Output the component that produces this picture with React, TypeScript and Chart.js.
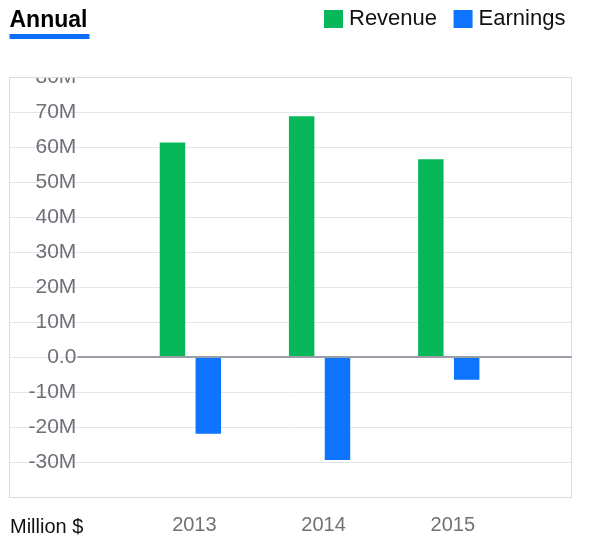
import React, { useEffect, useRef } from 'react';
import { Chart, registerables } from 'chart.js';

Chart.register(...registerables);

const years = [2013, 2014, 2015];
const revenue = [61.3e6, 68.8e6, 56.5e6];
const earnings = [-21.8e6, -29.3e6, -6.4e6];
const seriesNames = ['Revenue', 'Earnings'];
const seriesColors = ['#07b85b', '#0e73ff'];
const yMin = -40e6;
const yMax = 80e6;
const yStep = 10e6;
const xMin = 2011.6;
const xMax = 2015.95;
const titleText = 'Annual';
const unitText = 'Million $';

const FONT = '"Liberation Sans", Arial, Helvetica, sans-serif';

const decor = {
  id: 'decor',
  beforeDraw(chart: any) {
    const { ctx, chartArea } = chart;
    ctx.save();
    ctx.beginPath();
    ctx.rect(0, chartArea.top, chart.width, chart.height - chartArea.top);
    ctx.clip();
  },
  beforeDatasetsDraw(chart: any) {
    const { ctx, chartArea } = chart;
    ctx.save();
    ctx.strokeStyle = '#d9dbe0';
    ctx.lineWidth = 1;
    const l = Math.floor(chartArea.left) + 0.5;
    const t = Math.floor(chartArea.top) + 0.5;
    const r = Math.floor(chartArea.right) + 0.5;
    const b = Math.floor(chartArea.bottom) + 0.5;
    ctx.strokeRect(l, t, r - l, b - t);
    ctx.restore();
  },
  afterDatasetsDraw(chart: any) {
    const { ctx, chartArea } = chart;
    const yScale = chart.scales.y;
    ctx.save();
    ctx.font = `21px ${FONT}`;
    let widest = 0;
    for (const t of yScale.ticks) {
      const w = ctx.measureText(String(t.label ?? '')).width;
      if (w > widest) widest = w;
    }
    const x0 = yScale.right + yScale.options.ticks.padding + widest + 1;
    const y = Math.round(yScale.getPixelForValue(0));
    ctx.strokeStyle = '#9a9ea6';
    ctx.lineWidth = 2;
    ctx.beginPath();
    ctx.moveTo(x0, y);
    ctx.lineTo(chartArea.right, y);
    ctx.stroke();
    ctx.restore();
  },
  afterDraw(chart: any) {
    const { ctx } = chart;
    ctx.restore();
    ctx.save();
    // title
    ctx.textBaseline = 'alphabetic';
    ctx.textAlign = 'left';
    ctx.font = `bold 23px ${FONT}`;
    ctx.fillStyle = '#000';
    ctx.fillText(titleText, 9.5, 27);
    const tw = ctx.measureText(titleText).width;
    ctx.fillStyle = '#0d6efd';
    ctx.fillRect(9.5, 34, tw + 2, 5);
    // legend
    ctx.font = `22px ${FONT}`;
    let x = 324;
    chart.data.datasets.forEach((ds: any) => {
      ctx.fillStyle = ds.backgroundColor;
      ctx.fillRect(x, 10, 19, 18);
      ctx.fillStyle = '#111';
      ctx.fillText(ds.label, x + 25, 25);
      x += 25 + ctx.measureText(ds.label).width + 16.5;
    });
    // unit label
    ctx.font = `20px ${FONT}`;
    ctx.fillStyle = '#111';
    ctx.fillText(unitText, 10, 533);
    ctx.restore();
  },
};

export default function App() {
  const ref = useRef<HTMLCanvasElement>(null);

  useEffect(() => {
    if (!ref.current) return;
    const chart = new Chart(ref.current, {
      type: 'bar',
      data: {
        datasets: [
          {
            label: seriesNames[0],
            data: years.map((x, i) => ({ x, y: revenue[i] })),
            backgroundColor: seriesColors[0],
            borderWidth: 0,
          },
          {
            label: seriesNames[1],
            data: years.map((x, i) => ({ x, y: earnings[i] })),
            backgroundColor: seriesColors[1],
            borderWidth: 0,
          },
        ],
      },
      options: {
        animation: false,
        responsive: false,
        devicePixelRatio: 1,
        layout: { padding: { left: 9.5, right: 28.5, top: 77, bottom: 11.5 } },
        plugins: {
          legend: { display: false },
          tooltip: { enabled: false },
          title: { display: false },
        },
        datasets: { bar: { categoryPercentage: 0.555, barPercentage: 0.71 } },
        scales: {
          x: {
            type: 'linear',
            min: xMin,
            max: xMax,
            offset: false,
            afterBuildTicks: (s: any) => {
              s.ticks = years.map((v) => ({ value: v }));
            },
            afterFit: (s: any) => {
              s.height = 40;
            },
            grid: { display: false, drawTicks: false },
            border: { display: false },
            ticks: {
              callback: (v: any) => String(v),
              font: { family: FONT, size: 20 },
              color: '#6f7276',
              padding: 16,
              labelOffset: 4,
              maxRotation: 0,
              autoSkip: false,
            },
          },
          y: {
            min: yMin,
            max: yMax,
            afterFit: (s: any) => {
              s.width = 0;
            },
            grid: { color: '#e4e6ea', drawTicks: false, lineWidth: 1 },
            border: { display: false },
            ticks: {
              stepSize: yStep,
              mirror: true,
              crossAlign: 'far',
              padding: 19,
              font: { family: FONT, size: 21 },
              color: '#6d7076',
              callback: (v: any) =>
                v === 0 ? '0.0' : v === yMin ? '' : `${v / 1e6}M`,
            },
          },
        },
      },
      plugins: [decor],
    } as any);
    return () => chart.destroy();
  }, []);

  return (
    <div style={{ position: 'absolute', left: 0, top: 0, width: 600, height: 549, background: '#fff' }}>
      <canvas ref={ref} width={600} height={549} style={{ display: 'block', width: 600, height: 549 }} />
    </div>
  );
}
